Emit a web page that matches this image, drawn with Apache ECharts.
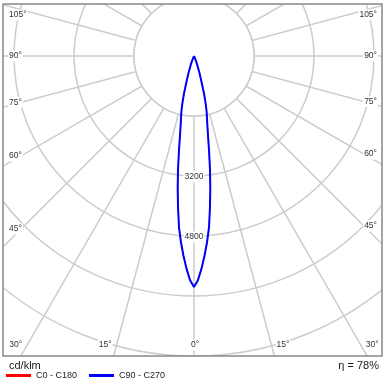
<!DOCTYPE html>
<html>
<head>
<meta charset="utf-8">
<script src="https://cdn.jsdelivr.net/npm/echarts@6/dist/echarts.min.js"></script>
<style>
  html, body { margin: 0; padding: 0; background: #fff; }
  #chart { width: 387px; height: 386px; }
</style>
</head>
<body>
<div id="chart"></div>
<script>
// gamma angle (deg) -> luminous intensity (cd/klm), mirrored on both half planes
const gammaAngles = [0, 1, 2, 3, 4, 5, 6, 7, 8, 9, 10, 11, 12, 13, 14, 15, 16, 17, 18, 20, 22, 25, 30, 45, 60, 75, 90];
const c0c180 =      [6160, 5980, 5680, 5340, 4980, 4590, 4070, 3570, 3065, 2570, 2150, 1860, 1660, 1480, 1250, 1020, 750, 590, 470, 260, 140, 50, 0, 0, 0, 0, 0];
const c90c270 =     [6160, 5980, 5680, 5340, 4980, 4590, 4070, 3570, 3065, 2570, 2150, 1860, 1660, 1480, 1250, 1020, 750, 590, 470, 260, 140, 50, 0, 0, 0, 0, 0];

const seriesNames = ['C0 - C180', 'C90 - C270'];
const seriesColors = ['#ff0000', '#0000ff'];
const ringValues = [1600, 3200, 4800, 6400, 8000, 9600];
const ringLabels = [3200, 4800];
const angleLabels = [0, 15, 30, 45, 60, 75, 90, 105];
const unitText = 'cd/klm';
const etaText = 'η = 78%';

const FONT = '"Liberation Sans", Arial, sans-serif';
const GRID = '#cccccc';
const frame = { x: 3, y: 4, w: 379, h: 352 };

// left half: gamma as is, right half: 360 - gamma (0 points down, clockwise)
function toPolar(values) {
  const out = [];
  for (let i = gammaAngles.length - 1; i >= 0; i--) out.push([values[i], gammaAngles[i]]);
  for (let i = 1; i < gammaAngles.length; i++) out.push([values[i], 360 - gammaAngles[i]]);
  return out;
}

const chart = echarts.init(document.getElementById('chart'));

chart.setOption({
  animation: false,
  backgroundColor: '#fff',
  polar: { center: [194, 56], radius: 360 },
  angleAxis: {
    type: 'value', min: 0, max: 360, interval: 15,
    startAngle: -90, clockwise: true, z: 1,
    axisLine: { show: false }, axisTick: { show: false }, axisLabel: { show: false },
    splitLine: { show: true, lineStyle: { color: GRID, width: 1.5 } }
  },
  radiusAxis: {
    type: 'value', min: 0, max: ringValues[ringValues.length - 1], interval: ringValues[0], z: 1,
    axisLine: { show: false }, axisTick: { show: false }, axisLabel: { show: false },
    splitLine: { show: true, lineStyle: { color: GRID, width: 1.5 } }
  },
  legend: {
    left: 6, top: 371, padding: 0, z: 50, itemWidth: 25, itemHeight: 3, itemGap: 12, icon: 'rect',
    data: seriesNames,
    textStyle: { fontSize: 9, color: '#222', fontFamily: FONT }
  },
  series: [
    { name: seriesNames[0], type: 'line', coordinateSystem: 'polar', data: toPolar(c0c180),
      symbol: 'none', smooth: false, z: 5, color: seriesColors[0],
      lineStyle: { color: seriesColors[0], width: 1 } },
    { name: seriesNames[1], type: 'line', coordinateSystem: 'polar', data: toPolar(c90c270),
      symbol: 'none', smooth: false, z: 6, color: seriesColors[1],
      lineStyle: { color: seriesColors[1], width: 2 } }
  ]
});

// overlay: inner disk, clipping frame, labels
const toPx = (r, a) => chart.convertToPixel({ seriesIndex: 0 }, [r, a]);
const c = toPx(0, 0);
const innerR = toPx(ringValues[0], 0)[1] - c[1];
const farR = ringValues[ringValues.length - 1];
const bottom = frame.y + frame.h;
const right = frame.x + frame.w;

const labelStyle = (text, x, y, align, size) => ({
  type: 'text', z: 30,
  style: {
    text: String(text), x: x, y: y, align: align, verticalAlign: 'middle',
    fill: '#333', font: size + 'px ' + FONT, backgroundColor: '#fff', padding: [1, 1]
  }
});

const graphics = [
  { type: 'circle', z: 2, shape: { cx: c[0], cy: c[1], r: innerR },
    style: { fill: '#fff', stroke: GRID, lineWidth: 1.5 } },
  { type: 'rect', z: 20, shape: { x: 0, y: 0, width: 387, height: frame.y }, style: { fill: '#fff' } },
  { type: 'rect', z: 20, shape: { x: 0, y: 0, width: frame.x, height: 386 }, style: { fill: '#fff' } },
  { type: 'rect', z: 20, shape: { x: right, y: 0, width: 387 - right, height: 386 }, style: { fill: '#fff' } },
  { type: 'rect', z: 20, shape: { x: 0, y: bottom, width: 387, height: 386 - bottom }, style: { fill: '#fff' } },
  { type: 'rect', z: 21, shape: { x: frame.x, y: frame.y, width: frame.w, height: frame.h },
    style: { fill: 'none', stroke: '#888', lineWidth: 1.5 } }
];

ringLabels.forEach(v => {
  const p = toPx(v, 0);
  graphics.push(labelStyle(v, p[0], p[1] + 1, 'center', 8.5));
});

angleLabels.forEach(g => {
  [-1, 1].forEach(side => {
    if (g === 0 && side === 1) return;
    const a = side < 0 ? g : (360 - g) % 360;
    const p = toPx(farR, a);
    const dx = p[0] - c[0], dy = p[1] - c[1];
    const txt = g + '°';
    const yb = bottom - 11;
    const tb = dy > 0 ? (yb - c[1]) / dy : Infinity;
    const xb = c[0] + tb * dx;
    if (dy > 0 && xb > frame.x + 5 && xb < right - 5) {
      if (g === 0) graphics.push(labelStyle(txt, xb + 1, yb, 'center', 8.5));
      else if (side < 0) graphics.push(labelStyle(txt, xb - 4, yb, 'right', 8.5));
      else graphics.push(labelStyle(txt, xb + 4, yb, 'left', 8.5));
    } else {
      const xa = side < 0 ? frame.x + 18 : right - 18;
      let y = c[1] + (xa - c[0]) / dx * dy;
      y = Math.max(frame.y + 11, Math.min(bottom - 11, y));
      if (side < 0) graphics.push(labelStyle(txt, frame.x + 5, y, 'left', 8.5));
      else graphics.push(labelStyle(txt, right - 4, y, 'right', 8.5));
    }
  });
});

graphics.push({ type: 'text', z: 30,
  style: { text: unitText, x: frame.x + 6, y: 366, verticalAlign: 'middle', fill: '#222', font: '11px ' + FONT } });
graphics.push({ type: 'text', z: 30,
  style: { text: etaText, x: right - 3, y: 366, align: 'right', verticalAlign: 'middle', fill: '#222', font: '11px ' + FONT } });

chart.setOption({ graphic: graphics });
</script>
</body>
</html>
